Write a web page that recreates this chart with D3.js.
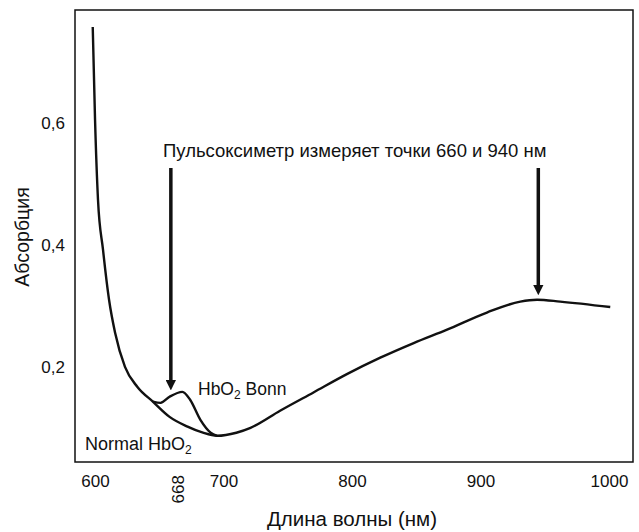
<!DOCTYPE html>
<html>
<head>
<meta charset="utf-8">
<script src="https://cdn.jsdelivr.net/npm/d3@7"></script>
<style>
  body { margin: 0; background: #fff; }
  text { font-family: "Liberation Sans", Arial, sans-serif; fill: #111; }
</style>
</head>
<body>
<script>
// wavelength (nm) / absorbance
var normalWl  = [598.2, 600, 602.3, 606.2, 610.9, 615.6, 623.3, 633, 645, 658, 672, 684, 695, 710, 721, 744, 770, 796, 822, 848, 874, 905, 931, 944, 962, 1001];
var normalAbs = [0.757, 0.605, 0.474, 0.392, 0.310, 0.256, 0.200, 0.167, 0.143, 0.118, 0.102, 0.092, 0.087, 0.092, 0.100, 0.128, 0.158, 0.188, 0.215, 0.239, 0.261, 0.289, 0.307, 0.310, 0.307, 0.298];

var bonnWl  = [645, 651, 658, 668, 674, 682, 690, 695];
var bonnAbs = [0.143, 0.141, 0.151, 0.159, 0.146, 0.113, 0.092, 0.087];

var xTicks = [600, 700, 800, 900, 1000];
var yTicks = [0.2, 0.4, 0.6];
var markWl = 668;

// arrows: wavelength, top and tip absorbance
var arrowWl  = [659, 945];
var arrowTop = [0.526, 0.526];
var arrowTip = [0.162, 0.318];

var w = 639, h = 532;
var mLeft = 75, mTop = 10, mRight = 633, mBottom = 462;

var svg = d3.select("body").append("svg")
    .attr("width", w)
    .attr("height", h);

var xScale = d3.scaleLinear()
    .domain([584.4, 1018.7])
    .range([mLeft, mRight]);

var yScale = d3.scaleLinear()
    .domain([0.044, 0.785])
    .range([mBottom, mTop]);

var xAxis = d3.axisBottom(xScale)
    .tickValues(xTicks)
    .tickSize(0)
    .tickPadding(13)
    .tickFormat(d3.format("d"));

var yAxis = d3.axisLeft(yScale)
    .tickValues(yTicks)
    .tickSize(0)
    .tickPadding(10)
    .tickFormat(function(d) {
        return d3.format(".1f")(d).replace(".", ",");
    });

var gx = svg.append("g")
    .attr("transform", "translate(0," + mBottom + ")")
    .call(xAxis);
gx.select(".domain").remove();
gx.selectAll("text").attr("font-size", "17px").attr("fill", "#111");

var gy = svg.append("g")
    .attr("transform", "translate(" + mLeft + ",0)")
    .call(yAxis);
gy.select(".domain").remove();
gy.selectAll("text").attr("font-size", "17px").attr("fill", "#111");

// rotated 668 label
svg.append("text")
    .attr("transform", "translate(" + xScale(markWl) + "," + (mBottom + 13) + ") rotate(-90)")
    .attr("text-anchor", "end")
    .attr("dy", "0.12em")
    .attr("font-size", "17px")
    .text(markWl);

// frame
svg.append("rect")
    .attr("x", mLeft)
    .attr("y", mTop)
    .attr("width", mRight - mLeft)
    .attr("height", mBottom - mTop)
    .attr("fill", "none")
    .attr("stroke", "#111")
    .attr("stroke-width", 1.5);

var line = d3.line()
    .x(function(d) { return xScale(d[0]); })
    .y(function(d) { return yScale(d[1]); })
    .curve(d3.curveMonotoneX);

var normalData = normalWl.map(function(d, i) { return [d, normalAbs[i]]; });
var bonnData = bonnWl.map(function(d, i) { return [d, bonnAbs[i]]; });

svg.append("path")
    .datum(normalData)
    .attr("d", line)
    .attr("fill", "none")
    .attr("stroke", "#111")
    .attr("stroke-width", 2.4)
    .attr("stroke-linejoin", "round");

svg.append("path")
    .datum(bonnData)
    .attr("d", line)
    .attr("fill", "none")
    .attr("stroke", "#111")
    .attr("stroke-width", 2.4)
    .attr("stroke-linejoin", "round");

// arrows
svg.append("defs").append("marker")
    .attr("id", "head")
    .attr("viewBox", "0 0 10 10")
    .attr("refX", 2)
    .attr("refY", 5)
    .attr("markerWidth", 3)
    .attr("markerHeight", 3)
    .attr("markerUnits", "strokeWidth")
    .attr("orient", "auto")
    .append("path")
    .attr("d", "M0,0 L10,5 L0,10 Z")
    .attr("fill", "#111");

arrowWl.forEach(function(d, i) {
    svg.append("line")
        .attr("x1", xScale(d))
        .attr("x2", xScale(d))
        .attr("y1", yScale(arrowTop[i]))
        .attr("y2", yScale(arrowTip[i]) - 8)
        .attr("stroke", "#111")
        .attr("stroke-width", 3.5)
        .attr("marker-end", "url(#head)");
});

// labels
svg.append("text")
    .attr("x", 163)
    .attr("y", 157)
    .attr("font-size", "18.5px")
    .text("Пульсоксиметр измеряет точки 660 и 940 нм");

var bonn = svg.append("text")
    .attr("x", 198)
    .attr("y", 395)
    .attr("font-size", "17.5px");
bonn.append("tspan").text("HbO");
bonn.append("tspan").attr("font-size", "12px").attr("dy", 4).text("2");
bonn.append("tspan").attr("dy", -4).text(" Bonn");

var normal = svg.append("text")
    .attr("x", 85)
    .attr("y", 450)
    .attr("font-size", "18px");
normal.append("tspan").text("Normal HbO");
normal.append("tspan").attr("font-size", "12px").attr("dy", 4).text("2");

// axis titles
svg.append("text")
    .attr("x", (mLeft + mRight) / 2 - 2)
    .attr("y", 526)
    .attr("text-anchor", "middle")
    .attr("font-size", "20.5px")
    .text("Длина волны (нм)");

svg.append("text")
    .attr("transform", "translate(22," + 237 + ") rotate(-90)")
    .attr("text-anchor", "middle")
    .attr("dy", "0.35em")
    .attr("font-size", "19.5px")
    .text("Абсорбция");
</script>
</body>
</html>
